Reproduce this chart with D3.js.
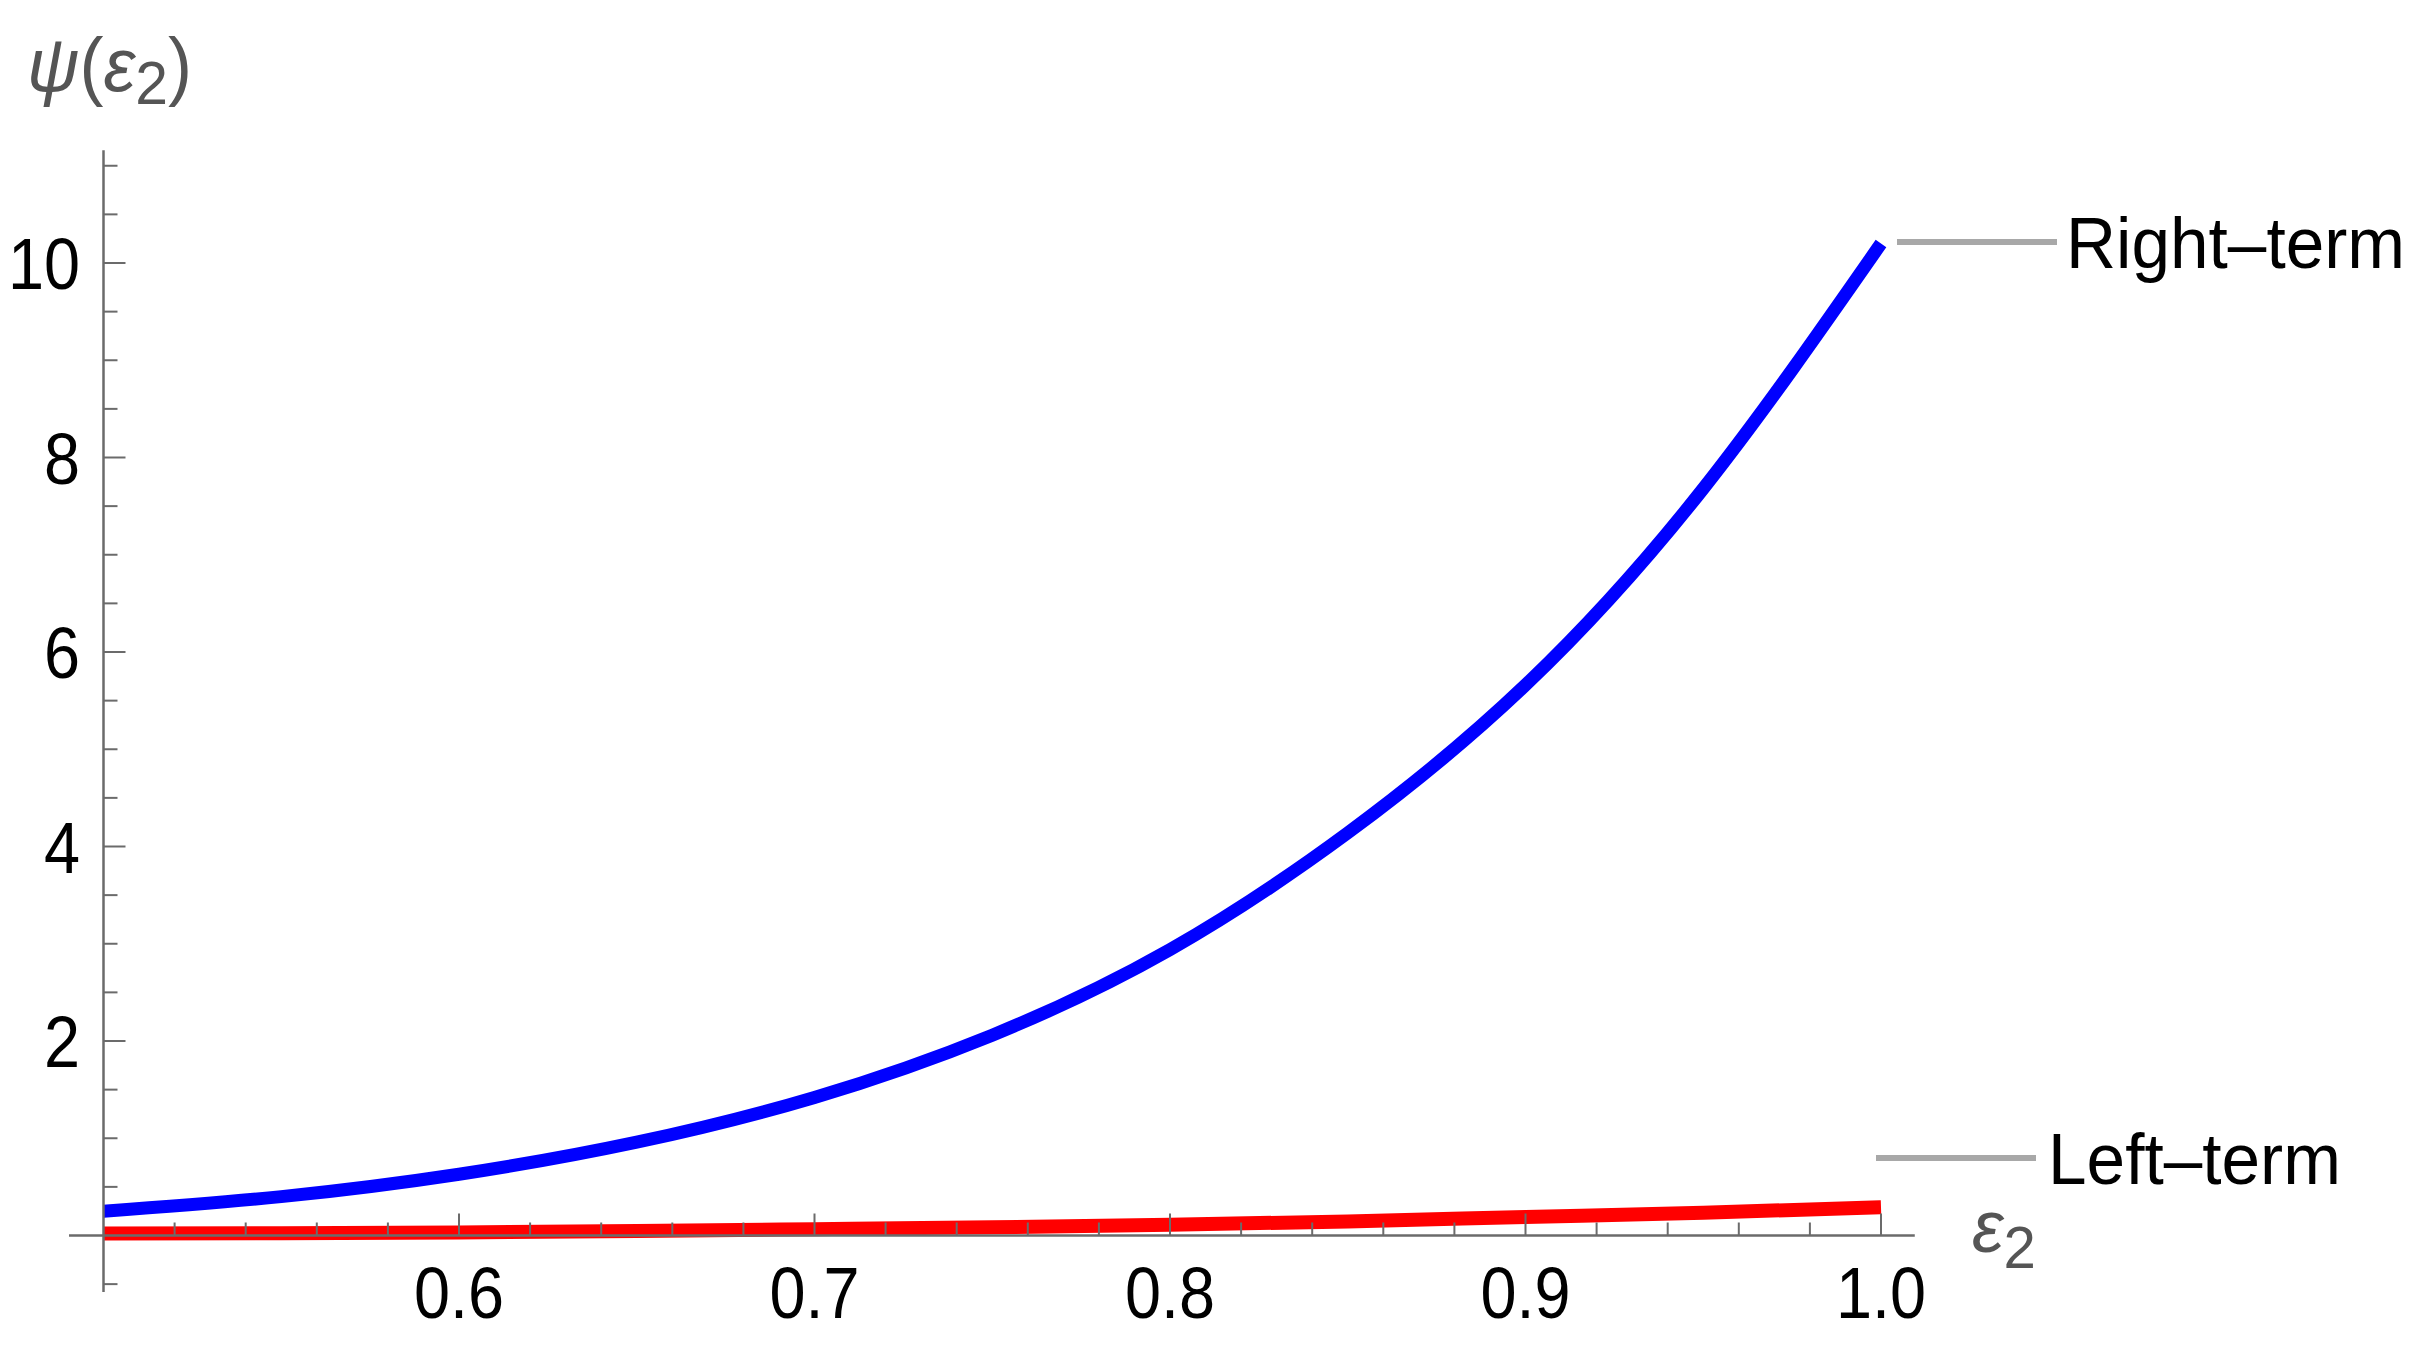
<!DOCTYPE html>
<html>
<head>
<meta charset="utf-8">
<script src="https://cdn.jsdelivr.net/npm/d3@7"></script>
<style>
  html, body { margin: 0; padding: 0; background: #ffffff; }
  svg { display: block; }
</style>
</head>
<body>
<svg id="chart" width="2417" height="1356"></svg>
<script>
// ---- data ----
const xValues   = [0.5, 0.55, 0.6, 0.65, 0.7, 0.75, 0.8, 0.85, 0.9, 0.95, 1.0];
const rightTerm = [0.25, 0.40, 0.63, 0.96, 1.42, 2.06, 2.94, 4.14, 5.66, 7.68, 10.2];
const leftTerm  = [0.02, 0.024, 0.032, 0.046, 0.065, 0.085, 0.11, 0.145, 0.19, 0.235, 0.29];
const seriesNames = ["Right\u2013term", "Left\u2013term"];
const xTickLabels = ["0.6", "0.7", "0.8", "0.9", "1.0"];
const yTickLabels = ["2", "4", "6", "8", "10"];

// ---- layout ----
const svg = d3.select("#chart");
const x = d3.scaleLinear().domain([0.5, 1.0]).range([103.5, 1881]);
const y = d3.scaleLinear().domain([0, 10]).range([1235.5, 263]);
const axisColor = "#6b6b6b";
const font = "'Liberation Sans', Arial, sans-serif";

function txt(g, xPos, yPos, str, size, anchor, color, sx) {
  const gg = g.append("g").attr("transform", `translate(${xPos},${yPos}) scale(${sx},1)`);
  return gg.append("text")
    .attr("font-family", font).attr("font-size", size)
    .attr("text-anchor", anchor).attr("fill", color)
    .text(str);
}

// ---- curves ----
const line = d3.line().x((d, i) => x(xValues[i])).y(d => y(d)).curve(d3.curveNatural);
svg.append("path").datum(leftTerm).attr("d", line)
  .attr("fill", "none").attr("stroke", "#ff0000").attr("stroke-width", 14);
svg.append("path").datum(rightTerm).attr("d", line)
  .attr("fill", "none").attr("stroke", "#0000ff").attr("stroke-width", 13);

// ---- axes ----
const axes = svg.append("g").attr("stroke", axisColor);
axes.append("line").attr("x1", x(0.4903)).attr("x2", x(1.0095))
  .attr("y1", y(0)).attr("y2", y(0)).attr("stroke-width", 2.5);
axes.append("line").attr("x1", x(0.5)).attr("x2", x(0.5))
  .attr("y1", y(-0.58)).attr("y2", y(11.16)).attr("stroke-width", 2.5);

const xMajor = d3.range(0.6, 1.0001, 0.1);
const xMinor = d3.range(0.52, 1.0001, 0.02).filter(v => Math.abs(v * 10 - Math.round(v * 10)) > 1e-6);
axes.selectAll(".xmaj").data(xMajor).enter().append("line")
  .attr("x1", d => x(d)).attr("x2", d => x(d))
  .attr("y1", y(0)).attr("y2", y(0) - 22).attr("stroke-width", 2);
axes.selectAll(".xmin").data(xMinor).enter().append("line")
  .attr("x1", d => x(d)).attr("x2", d => x(d))
  .attr("y1", y(0)).attr("y2", y(0) - 13).attr("stroke-width", 2);

const yMajor = [2, 4, 6, 8, 10];
const yMinor = d3.range(-0.5, 11.01, 0.5).filter(v => !(v % 2 === 0));
axes.selectAll(".ymaj").data(yMajor).enter().append("line")
  .attr("x1", x(0.5)).attr("x2", x(0.5) + 22)
  .attr("y1", d => y(d)).attr("y2", d => y(d)).attr("stroke-width", 2);
axes.selectAll(".ymin").data(yMinor).enter().append("line")
  .attr("x1", x(0.5)).attr("x2", x(0.5) + 14)
  .attr("y1", d => y(d)).attr("y2", d => y(d)).attr("stroke-width", 2);

// tick labels
const labels = svg.append("g");
xMajor.forEach((v, i) => txt(labels, x(v), 1318, xTickLabels[i], 72, "middle", "#000", 0.9));
yMajor.forEach((v, i) => txt(labels, 80, y(v) + 26, yTickLabels[i], 72, "end", "#000", 0.9));

// axis labels
const labColor = "#555555";
const yl = svg.append("g").attr("transform", `translate(27,91) scale(0.95,1)`)
  .append("text").attr("font-family", font).attr("font-size", 76).attr("fill", labColor);
yl.append("tspan").attr("font-style", "italic").text("\u03C8");
yl.append("tspan").text("(");
yl.append("tspan").attr("font-style", "italic").text("\u03B5");
yl.append("tspan").attr("font-size", 62).attr("dy", 13).text("2");
yl.append("tspan").attr("dy", -13).text(")");

const xl = svg.append("g").attr("transform", `translate(1972,1252) scale(0.97,1)`)
  .append("text").attr("font-family", font).attr("font-size", 74).attr("fill", labColor);
xl.append("tspan").attr("font-style", "italic").text("\u03B5");
xl.append("tspan").attr("font-size", 60).attr("dy", 16).text("2");

// ---- callout labels ----
const calloutY = [242, 1158];
const lineSpans = [[1897, 2057], [1876, 2036]];
const textX = [2066, 2048];
seriesNames.forEach((name, i) => {
  svg.append("line").attr("x1", lineSpans[i][0]).attr("x2", lineSpans[i][1])
    .attr("y1", calloutY[i]).attr("y2", calloutY[i])
    .attr("stroke", "#a8a8a8").attr("stroke-width", 6);
  txt(svg, textX[i], calloutY[i] + 26, name, 73, "start", "#000", 0.95);
});
</script>
</body>
</html>
